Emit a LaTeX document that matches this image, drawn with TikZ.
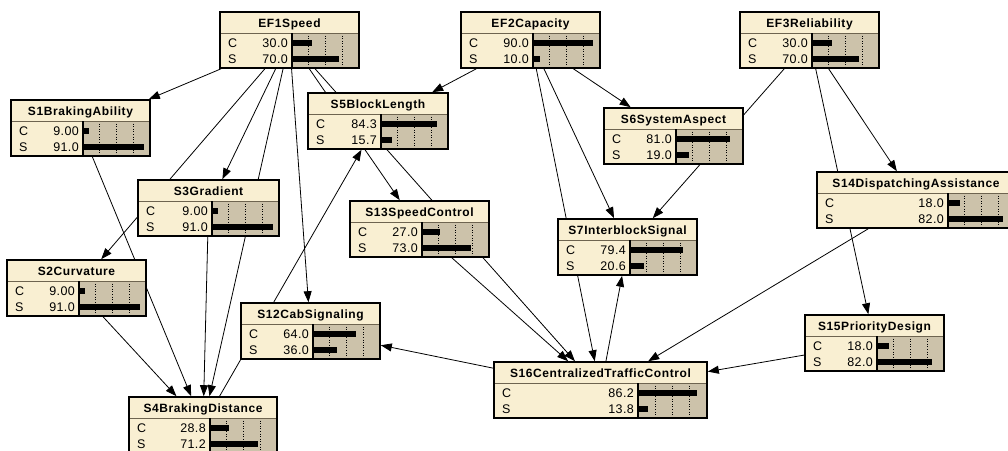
\documentclass[tikz,border=0pt]{standalone}
\usepackage{fontspec}
\setmainfont{Liberation Sans}
\newfontfamily\titlefont{Liberation Sans}[LetterSpace=5]
\newfontfamily\statefont{Liberation Sans}[LetterSpace=3]
\usetikzlibrary{arrows.meta,calc}
\pgfdeclarelayer{links}
\pgfsetlayers{links,main}
\definecolor{nodecream}{RGB}{249,239,210}
\definecolor{bartan}{RGB}{204,194,170}
\definecolor{sepgray}{RGB}{110,100,80}

\tikzset{
  netbox/.style={rectangle, fill=nodecream, draw=none, minimum height=56pt,
    inner sep=0pt, outer sep=0.8pt},
  titletext/.style={inner sep=0pt, text height=8.6pt, text depth=0pt,
    font=\titlefont\fontsize{12}{14}\selectfont\bfseries},
  statetext/.style={inner sep=0pt, text height=8.6pt, text depth=0pt,
    font=\statefont\fontsize{12.5}{14}\selectfont},
  gridline/.style={black, line width=0.6pt, dotted},
  sepline/.style={sepgray, line width=0.7pt},
  colline/.style={black, line width=1.2pt},
  borderline/.style={black, line width=1.8pt},
  link/.style={draw=black, line width=0.8pt, -{Triangle[length=11pt,width=8pt]}},
}

% belief-bar node: id, left, top, label column width, bar column width,
% title, value of C, value of S
\newcommand{\beliefnode}[8]{%
  \pgfmathsetmacro{\bnW}{#4+#5}%
  \node[netbox, minimum width=\bnW pt] (#1) at (#2+\bnW/2,#3+28) {};
  \fill[bartan] (#2+#4,#3+21) rectangle (#2+\bnW,#3+56);
  \foreach \q in {0.25,0.5,0.75}
    \draw[gridline] (#2+#4+\q*#5,#3+21) -- (#2+#4+\q*#5,#3+56);
  \fill[black] (#2+#4,#3+28) rectangle ++(#7*#5/100,6);
  \fill[black] (#2+#4,#3+44) rectangle ++(#8*#5/100,6);
  \draw[sepline] (#2,#3+21) -- (#2+\bnW,#3+21);
  \draw[colline] (#2+#4,#3+21) -- (#2+#4,#3+56);
  \node[titletext] (#1-title) at (#2+\bnW/2,#3+10.8) {#6};
  \node[statetext, anchor=west] (#1-cname) at (#2+8,#3+30.8) {C};
  \node[statetext, anchor=east] (#1-cval) at (#2+#4-4,#3+30.8) {#7};
  \node[statetext, anchor=west] (#1-sname) at (#2+8,#3+47.3) {S};
  \node[statetext, anchor=east] (#1-sval) at (#2+#4-4,#3+47.3) {#8};
  \draw[borderline] (#2,#3) rectangle (#2+\bnW,#3+56);
}

\begin{document}
\begin{tikzpicture}[x=1pt, y=-1pt]
\useasboundingbox (0,0) rectangle (1008,450);

% nodes
\beliefnode{EF1}{220}{12}{72}{67}{EF1Speed}{30.0}{70.0}
\beliefnode{EF2}{461}{12}{72}{67}{EF2Capacity}{90.0}{10.0}
\beliefnode{EF3}{740}{12}{72}{67}{EF3Reliability}{30.0}{70.0}
\beliefnode{S1}{11}{100}{72}{67}{S1BrakingAbility}{9.00}{91.0}
\beliefnode{S5}{308}{93}{73}{67}{S5BlockLength}{84.3}{15.7}
\beliefnode{S6}{604}{108}{72}{67}{S6SystemAspect}{81.0}{19.0}
\beliefnode{S3}{138}{180}{74}{67}{S3Gradient}{9.00}{91.0}
\beliefnode{S13}{350}{201}{72}{67}{S13SpeedControl}{27.0}{73.0}
\beliefnode{S14}{817}{172}{131}{67}{S14DispatchingAssistance}{18.0}{82.0}
\beliefnode{S7}{558}{219}{72}{67}{S7InterblockSignal}{79.4}{20.6}
\beliefnode{S2}{7}{260}{72}{67}{S2Curvature}{9.00}{91.0}
\beliefnode{S12}{241}{303}{72}{67}{S12CabSignaling}{64.0}{36.0}
\beliefnode{S15}{805}{315}{72}{67}{S15PriorityDesign}{18.0}{82.0}
\beliefnode{S16}{494}{362}{144}{69}{S16CentralizedTrafficControl}{86.2}{13.8}
\beliefnode{S4}{129}{397}{81}{67}{S4BrakingDistance}{28.8}{71.2}

% links, drawn underneath the nodes
\begin{pgfonlayer}{links}
  \fill[white] (0,0) rectangle (1008,450);
  \draw[link] (EF1) -- (S1);
  \draw[link] (EF1) -- (S2);
  \draw[link] (EF1) -- (S3);
  \draw[link] (EF1) -- (S4);
  \draw[link] (EF1) -- (S12);
  \draw[link] (EF1) -- (S13);
  \draw[link] (EF1) -- (S16);
  \draw[link] (EF2) -- (S5);
  \draw[link] (EF2) -- (S6);
  \draw[link] (EF2) -- (S7);
  \draw[link] (EF2) -- (S16);
  \draw[link] (EF3) -- (S7);
  \draw[link] (EF3) -- (S14);
  \draw[link] (EF3) -- (S15);
  \draw[link] (S1) -- (S4);
  \draw[link] (S2) -- (S4);
  \draw[link] (S3) -- (S4);
  \draw[link] (S4) -- (S5);
  \draw[link] (S13) -- (S16);
  \draw[link] (S14) -- (S16);
  \draw[link] (S15) -- (S16);
  \draw[link] (S16) -- (S12);
  \draw[link] (S16) -- (S7);
\end{pgfonlayer}
\end{tikzpicture}
\end{document}
